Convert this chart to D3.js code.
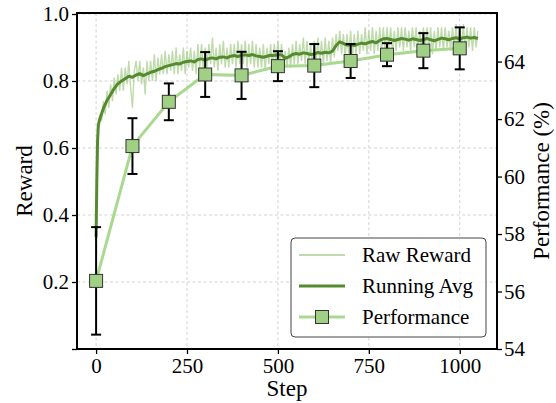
<!DOCTYPE html>
<html>
<head>
<meta charset="utf-8">
<script src="https://cdn.jsdelivr.net/npm/d3@7"></script>
<style>
  body { margin: 0; background: #fff; }
  svg text { font-family: "Liberation Serif", "Times New Roman", "DejaVu Serif", serif !important; fill: #000; }
</style>
</head>
<body>
<div id="chart"></div>
<script>
// data

let rawSteps = d3.range(0, 1051, 5);
let rawReward = [
  0.33, 0.66, 0.70, 0.68, 0.74, 0.70, 0.77, 0.72, 0.79, 0.74,
  0.81, 0.76, 0.82, 0.77, 0.84, 0.77, 0.84, 0.79, 0.86, 0.78,
  0.72, 0.83, 0.86, 0.80, 0.86, 0.79, 0.84, 0.76, 0.86, 0.80,
  0.86, 0.80, 0.88, 0.80, 0.87, 0.82, 0.88, 0.82, 0.89, 0.82,
  0.88, 0.83, 0.89, 0.82, 0.90, 0.82, 0.88, 0.83, 0.90, 0.82,
  0.89, 0.84, 0.90, 0.83, 0.89, 0.82, 0.91, 0.84, 0.91, 0.83,
  0.90, 0.84, 0.91, 0.85, 0.93, 0.84, 0.90, 0.83, 0.91, 0.85,
  0.92, 0.84, 0.90, 0.84, 0.91, 0.85, 0.91, 0.84, 0.92, 0.85,
  0.91, 0.85, 0.92, 0.84, 0.91, 0.85, 0.92, 0.84, 0.91, 0.84,
  0.90, 0.84, 0.91, 0.83, 0.90, 0.85, 0.91, 0.84, 0.91, 0.85,
  0.92, 0.85, 0.91, 0.84, 0.89, 0.84, 0.90, 0.84, 0.91, 0.85,
  0.92, 0.85, 0.91, 0.86, 0.93, 0.85, 0.92, 0.85, 0.91, 0.84,
  0.92, 0.85, 0.93, 0.86, 0.92, 0.85, 0.93, 0.86, 0.92, 0.85,
  0.93, 0.87, 0.94, 0.89, 0.95, 0.88, 0.94, 0.87, 0.94, 0.88,
  0.95, 0.87, 0.94, 0.88, 0.95, 0.88, 0.94, 0.89, 0.96, 0.88,
  0.95, 0.89, 0.96, 0.88, 0.95, 0.89, 0.96, 0.89, 0.96, 0.89,
  0.96, 0.90, 0.96, 0.89, 0.95, 0.89, 0.96, 0.90, 0.96, 0.89,
  0.96, 0.90, 0.95, 0.89, 0.96, 0.90, 0.96, 0.89, 0.95, 0.89,
  0.96, 0.90, 0.96, 0.89, 0.96, 0.88, 0.95, 0.89, 0.96, 0.90,
  0.96, 0.89, 0.96, 0.90, 0.95, 0.89, 0.96, 0.90, 0.97, 0.89,
  0.96, 0.90, 0.97, 0.89, 0.96, 0.90, 0.96, 0.89, 0.96, 0.90,
  0.95
];

let avgSteps = [0, 2, 4, 6, 8].concat(d3.range(10, 1051, 10));
let runningAvg = [
  0.334, 0.50, 0.62, 0.665, 0.678,
  0.685, 0.718, 0.742, 0.760, 0.778, 0.792, 0.800, 0.807, 0.814, 0.811,
  0.818, 0.822, 0.816, 0.821, 0.826, 0.829, 0.834, 0.838, 0.843, 0.846,
  0.849, 0.852, 0.851, 0.856, 0.858, 0.860, 0.857, 0.864, 0.866, 0.862,
  0.867, 0.869, 0.866, 0.871, 0.872, 0.869, 0.874, 0.876, 0.873, 0.877,
  0.878, 0.876, 0.879, 0.875, 0.873, 0.871, 0.874, 0.877, 0.876, 0.879,
  0.878, 0.868, 0.872, 0.879, 0.882, 0.880, 0.884, 0.882, 0.879, 0.881,
  0.885, 0.883, 0.886, 0.884, 0.889, 0.906, 0.917, 0.912, 0.907, 0.909,
  0.906, 0.910, 0.913, 0.911, 0.915, 0.918, 0.914, 0.921, 0.926, 0.927,
  0.924, 0.921, 0.924, 0.927, 0.925, 0.922, 0.926, 0.924, 0.921, 0.924,
  0.927, 0.923, 0.920, 0.924, 0.928, 0.926, 0.923, 0.927, 0.929, 0.926,
  0.929, 0.931, 0.928, 0.930, 0.927
];

let perfSteps = [0, 100, 200, 300, 400, 500, 600, 700, 800, 900, 1000];
let perfValues = [56.37, 61.06, 62.60, 63.55, 63.52, 63.84, 63.86, 64.02, 64.24, 64.38, 64.46];
let perfErrors = [1.87, 0.97, 0.64, 0.78, 0.82, 0.52, 0.75, 0.59, 0.40, 0.61, 0.73];

let xTicks = [0, 250, 500, 750, 1000];
let yLeftTicks = [0, 0.2, 0.4, 0.6, 0.8, 1.0];
let yRightTicks = [54, 56, 58, 60, 62, 64];
let legendLabels = ["Raw Reward", "Running Avg", "Performance"];

// colours
let rawColor = "#9cc77f";
let avgColor = "#558b2f";
let perfColor = "#a9d98f";
let markerFill = "#9fd083";
let fontFam = "'Liberation Serif', 'Times New Roman', 'DejaVu Serif', serif";

// Set up SVG
let svgWidth = 556;
let svgHeight = 403;
let margin = { top: 13, right: 59, bottom: 54, left: 77 };
let width = svgWidth - margin.left - margin.right;
let height = svgHeight - margin.top - margin.bottom;

let svg = d3.select("#chart").append("svg")
    .attr("width", svgWidth)
    .attr("height", svgHeight)
    .attr("font-family", fontFam);

let chartGroup = svg.append("g")
    .attr("transform", `translate(${margin.left}, ${margin.top})`);

// scales
let xScale = d3.scaleLinear().domain([-52.5, 1102.5]).range([0, width]);
let yLeft = d3.scaleLinear().domain([0, 1.003]).range([height, 0]);
let yRight = d3.scaleLinear().domain([54, 65.69]).range([height, 0]);

// grid
let grid = chartGroup.append("g")
    .attr("stroke", "#c8c8c8")
    .attr("stroke-width", 0.8)
    .attr("stroke-dasharray", "3,2.5");
grid.selectAll(".vgrid").data(xTicks).enter().append("line")
    .attr("x1", d => xScale(d)).attr("x2", d => xScale(d))
    .attr("y1", 0).attr("y2", height);
grid.selectAll(".hgrid").data(yLeftTicks).enter().append("line")
    .attr("x1", 0).attr("x2", width)
    .attr("y1", d => yLeft(d)).attr("y2", d => yLeft(d));

// raw reward
let rawLine = d3.line()
    .x((d, i) => xScale(rawSteps[i]))
    .y(d => yLeft(d));
chartGroup.append("path")
    .datum(rawReward)
    .attr("d", rawLine)
    .attr("fill", "none")
    .attr("stroke", rawColor)
    .attr("stroke-opacity", 0.65)
    .attr("stroke-width", 1.4);

// running average
let avgLine = d3.line()
    .x((d, i) => xScale(avgSteps[i]))
    .y(d => yLeft(d));
chartGroup.append("path")
    .datum(runningAvg)
    .attr("d", avgLine)
    .attr("fill", "none")
    .attr("stroke", avgColor)
    .attr("stroke-width", 3)
    .attr("stroke-linejoin", "round");

// performance line
let perfLine = d3.line()
    .x((d, i) => xScale(perfSteps[i]))
    .y(d => yRight(d));
chartGroup.append("path")
    .datum(perfValues)
    .attr("d", perfLine)
    .attr("fill", "none")
    .attr("stroke", perfColor)
    .attr("stroke-width", 3);

// error bars
let errGroup = chartGroup.append("g")
    .attr("stroke", "#000")
    .attr("stroke-width", 2);
perfValues.forEach((v, i) => {
  let x = xScale(perfSteps[i]);
  let y1 = yRight(v + perfErrors[i]);
  let y2 = yRight(v - perfErrors[i]);
  errGroup.append("line").attr("x1", x).attr("x2", x).attr("y1", y1).attr("y2", y2);
  errGroup.append("line").attr("x1", x - 5).attr("x2", x + 5).attr("y1", y1).attr("y2", y1);
  errGroup.append("line").attr("x1", x - 5).attr("x2", x + 5).attr("y1", y2).attr("y2", y2);
});

// markers
let ms = 13;
chartGroup.selectAll(".marker")
    .data(perfValues)
    .enter()
    .append("rect")
    .attr("x", (d, i) => xScale(perfSteps[i]) - ms / 2)
    .attr("y", d => yRight(d) - ms / 2)
    .attr("width", ms)
    .attr("height", ms)
    .attr("fill", markerFill)
    .attr("stroke", "#333")
    .attr("stroke-width", 1);

// axes
let xAxis = d3.axisBottom(xScale).tickValues(xTicks).tickSize(5).tickPadding(4)
    .tickFormat(d3.format("d"));
let leftAxis = d3.axisLeft(yLeft).tickValues(yLeftTicks).tickSize(5).tickPadding(3)
    .tickFormat(d => d === 0 ? "" : d3.format(".1f")(d));
let rightAxis = d3.axisRight(yRight).tickValues(yRightTicks).tickSize(5).tickPadding(2);

function styleAxis(g) {
  g.attr("font-family", fontFam).attr("font-size", 21);
  g.select(".domain").remove();
  g.selectAll(".tick line").attr("stroke", "#000").attr("stroke-width", 1.3);
  g.selectAll(".tick text").attr("fill", "#000");
}

chartGroup.append("g")
    .attr("transform", `translate(0, ${height})`)
    .call(xAxis).call(styleAxis);
chartGroup.append("g")
    .call(leftAxis).call(styleAxis);
chartGroup.append("g")
    .attr("transform", `translate(${width}, 0)`)
    .call(rightAxis).call(styleAxis);

// spines
chartGroup.append("rect")
    .attr("width", width)
    .attr("height", height)
    .attr("fill", "none")
    .attr("stroke", "#000")
    .attr("stroke-width", 2);

// axis labels
chartGroup.append("text")
    .attr("transform", `translate(${32 - margin.left}, ${height / 2}) rotate(-90)`)
    .attr("text-anchor", "middle")
    .attr("font-size", 23)
    .text("Reward");
chartGroup.append("text")
    .attr("transform", `translate(${549 - margin.left}, ${height / 2}) rotate(-90)`)
    .attr("text-anchor", "middle")
    .attr("font-size", 23)
    .text("Performance (%)");
chartGroup.append("text")
    .attr("x", xScale(525))
    .attr("y", height + 47)
    .attr("text-anchor", "middle")
    .attr("font-size", 23)
    .text("Step");

// legend
let legend = chartGroup.append("g")
    .attr("transform", `translate(${291 - margin.left}, ${238 - margin.top})`);
legend.append("rect")
    .attr("width", 195)
    .attr("height", 99)
    .attr("rx", 4)
    .attr("fill", "#fff")
    .attr("fill-opacity", 0.8)
    .attr("stroke", "#444")
    .attr("stroke-width", 1);

let rowY = [17, 48, 79];
let legendStyles = [
  { color: rawColor, opacity: 0.65, w: 2 },
  { color: avgColor, opacity: 1, w: 3 },
  { color: perfColor, opacity: 1, w: 3 }
];
legendLabels.forEach((label, i) => {
  legend.append("line")
      .attr("x1", 8).attr("x2", 54)
      .attr("y1", rowY[i]).attr("y2", rowY[i])
      .attr("stroke", legendStyles[i].color)
      .attr("stroke-opacity", legendStyles[i].opacity)
      .attr("stroke-width", legendStyles[i].w);
  if (i === 2) {
    legend.append("rect")
        .attr("x", 31 - ms / 2).attr("y", rowY[i] - ms / 2)
        .attr("width", ms).attr("height", ms)
        .attr("fill", markerFill)
        .attr("stroke", "#333")
        .attr("stroke-width", 1);
  }
  legend.append("text")
      .attr("x", 71)
      .attr("y", rowY[i])
      .attr("dy", "0.35em")
      .attr("font-size", 21)
      .text(label);
});
</script>
</body>
</html>
